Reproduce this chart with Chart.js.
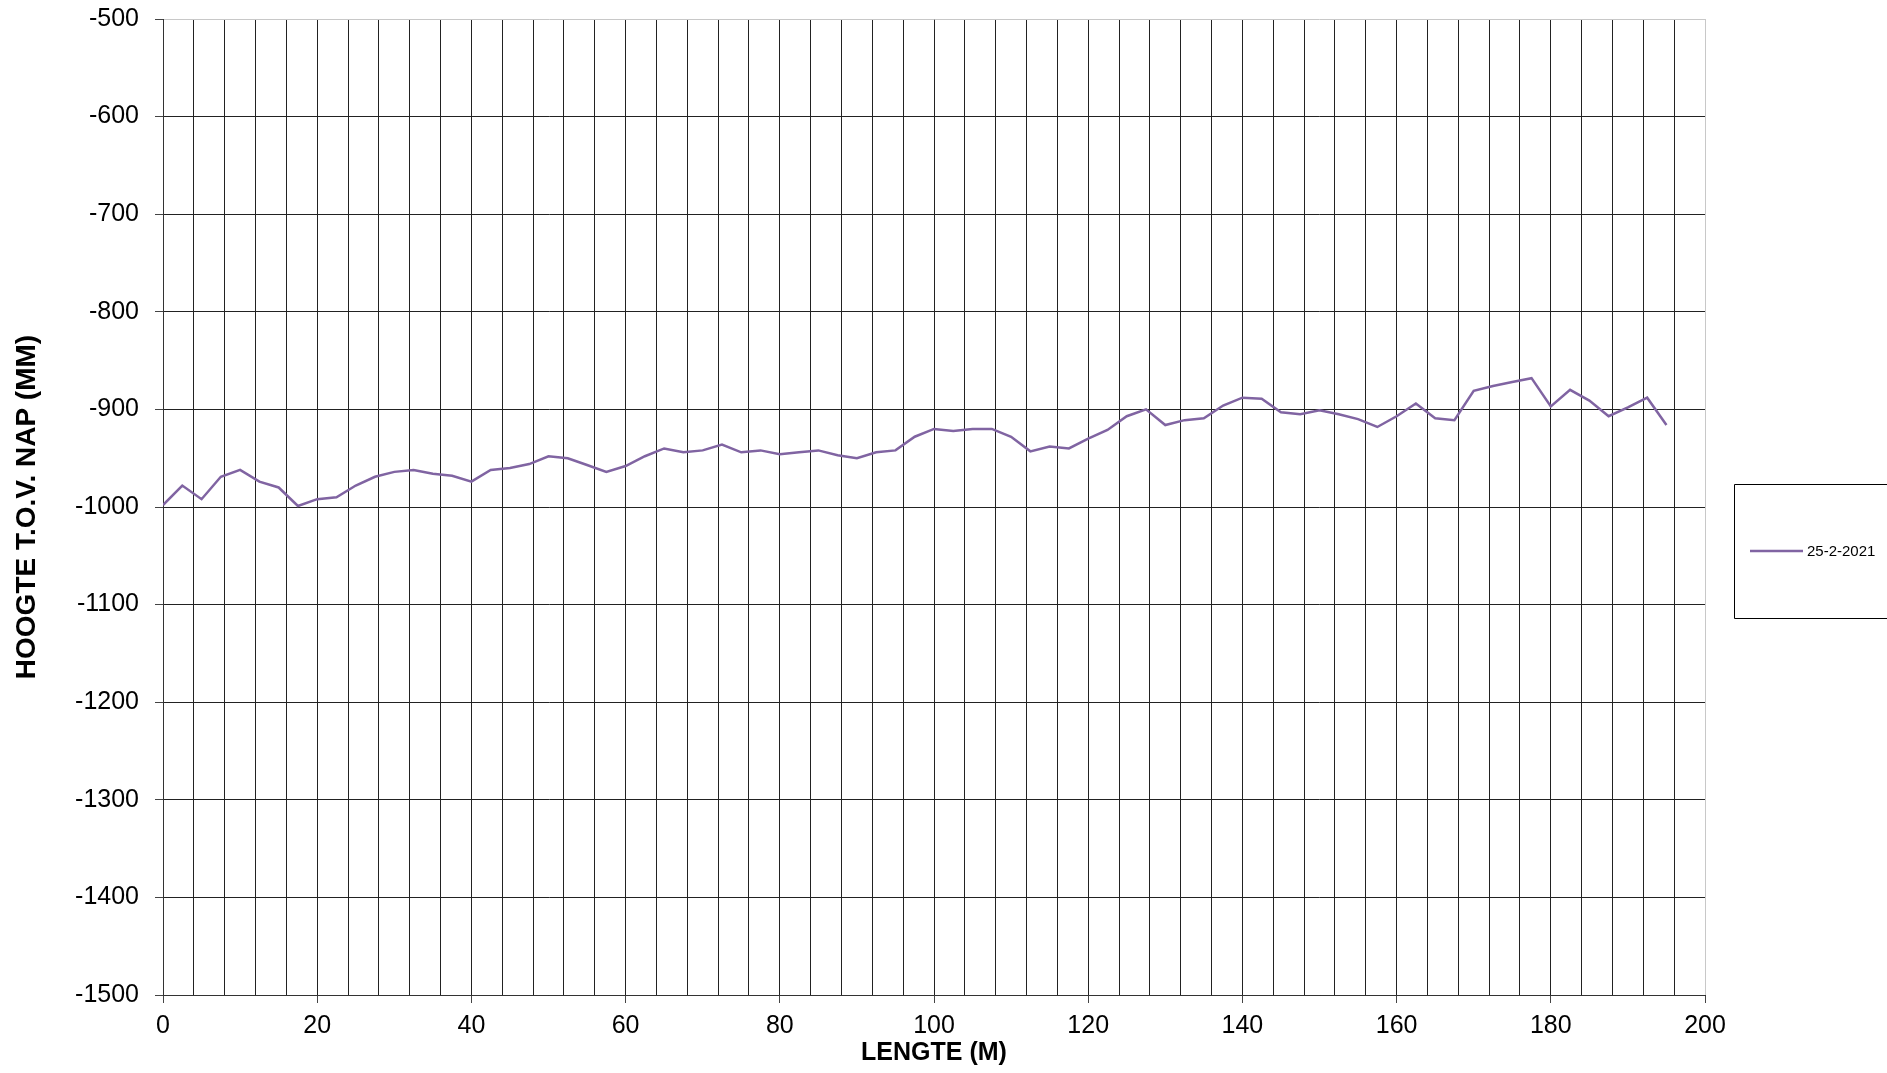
<!DOCTYPE html>
<html>
<head>
<meta charset="utf-8">
<script src="https://cdn.jsdelivr.net/npm/chart.js@4.4.1/dist/chart.umd.min.js"></script>
<style>
html,body{margin:0;padding:0;background:#fff;}
canvas{display:block;}
</style>
</head>
<body>
<canvas id="c" width="1887" height="1073"></canvas>
<script>
// Data
const lengths = [0,2.5,5,7.5,10,12.5,15,17.5,20,22.5,25,27.5,30,32.5,35,37.5,40,42.5,45,47.5,50,52.5,55,57.5,60,62.5,65,67.5,70,72.5,75,77.5,80,82.5,85,87.5,90,92.5,95,97.5,100,102.5,105,107.5,110,112.5,115,117.5,120,122.5,125,127.5,130,132.5,135,137.5,140,142.5,145,147.5,150,152.5,155,157.5,160,162.5,165,167.5,170,172.5,175,177.5,180,182.5,185,187.5,190,192.5,195];
const heights = [-998,-978,-992,-969,-962,-974,-980,-999,-992,-990,-978,-969,-964,-962,-966,-968,-974,-962,-960,-956,-948,-950,-957,-964,-958,-948,-940,-944,-942,-936,-944,-942,-946,-944,-942,-947,-950,-944,-942,-928,-920,-922,-920,-920,-928,-943,-938,-940,-930,-921,-907,-900,-916,-911,-909,-896,-888,-889,-903,-905,-901,-905,-910,-918,-907,-894,-909,-911,-881,-876,-872,-868,-897,-880,-891,-907,-898,-888,-916];
const seriesLabel = '25-2-2021';
const xTitle = 'LENGTE (M)';
const yTitle = 'HOOGTE T.O.V. NAP (MM)';
const xMin = 0, xMax = 200, xGridStep = 4, xLabelStep = 20;
const yMin = -1500, yMax = -500, yStep = 100;

const FONT = "'Liberation Sans', Arial, Helvetica, sans-serif";
const lineColor = '#8064A2';

const points = lengths.map((x, i) => ({x: x, y: heights[i]}));

const legendBox = {
  id: 'legendBox',
  afterDraw(chart) {
    const ctx = chart.ctx;
    ctx.save();
    ctx.strokeStyle = '#000';
    ctx.lineWidth = 1;
    ctx.beginPath();
    ctx.moveTo(1888, 484.5);
    ctx.lineTo(1734.5, 484.5);
    ctx.lineTo(1734.5, 618.5);
    ctx.lineTo(1888, 618.5);
    ctx.stroke();
    ctx.strokeStyle = lineColor;
    ctx.lineWidth = 2.5;
    ctx.beginPath();
    ctx.moveTo(1750, 551);
    ctx.lineTo(1803, 551);
    ctx.stroke();
    ctx.fillStyle = '#000';
    ctx.font = '15px ' + FONT;
    ctx.textBaseline = 'middle';
    ctx.textAlign = 'left';
    ctx.fillText(seriesLabel, 1807, 552);
    ctx.restore();
  }
};

new Chart(document.getElementById('c'), {
  type: 'line',
  data: {
    datasets: [{
      label: seriesLabel,
      data: points,
      borderColor: lineColor,
      backgroundColor: lineColor,
      borderWidth: 2.5,
      pointRadius: 0,
      tension: 0,
      fill: false
    }]
  },
  options: {
    responsive: false,
    animation: false,
    devicePixelRatio: 1,
    layout: {padding: {left: 0, top: 19, right: 182, bottom: 0}},
    plugins: {
      legend: {display: false},
      tooltip: {enabled: false}
    },
    scales: {
      x: {
        type: 'linear',
        min: xMin, max: xMax,
        afterFit: s => { s.height = 78; s.paddingLeft = 0; s.paddingRight = 0; },
        ticks: {
          stepSize: xGridStep,
          autoSkip: false,
          maxRotation: 0,
          padding: 8,
          color: '#000',
          font: {family: FONT, size: 25},
          callback: v => (v % xLabelStep === 0 ? String(v) : '')
        },
        grid: {
          color: c => (c.tick && c.tick.value === xMax ? '#c8c8c8' : '#222'),
          lineWidth: 1,
          tickLength: 8,
          tickColor: c => (c.tick && c.tick.value % xLabelStep === 0 ? '#444' : 'rgba(0,0,0,0)')
        },
        border: {display: true, color: '#333', width: 1},
        title: {
          display: true,
          text: xTitle,
          color: '#000',
          font: {family: FONT, size: 25, weight: 'bold'},
          padding: {top: 0, bottom: 5}
        }
      },
      y: {
        type: 'linear',
        min: yMin, max: yMax,
        afterFit: s => { s.width = 163; s.paddingTop = 0; s.paddingBottom = 0; },
        ticks: {
          stepSize: yStep,
          padding: 16,
          color: '#000',
          font: {family: FONT, size: 25},
          callback: v => String(v)
        },
        grid: {
          color: c => (c.tick && c.tick.value === yMax ? '#c8c8c8' : '#222'),
          lineWidth: 1,
          tickLength: 8,
          tickColor: '#444'
        },
        border: {display: true, color: '#333', width: 1},
        title: {
          display: true,
          text: yTitle,
          color: '#000',
          font: {family: FONT, size: 28, weight: 'bold'},
          padding: {top: 10, bottom: 0}
        }
      }
    }
  },
  plugins: [legendBox]
});
</script>
</body>
</html>
